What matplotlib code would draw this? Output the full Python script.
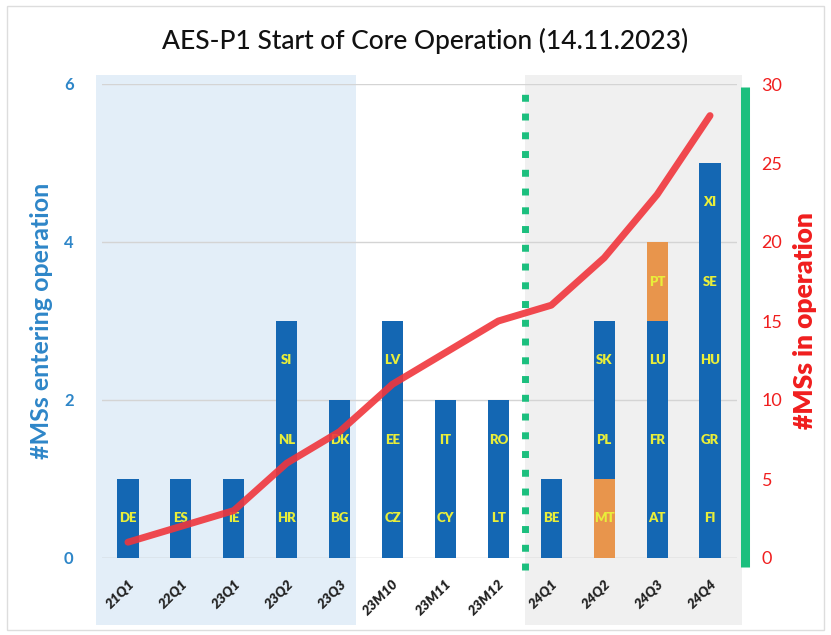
import matplotlib
matplotlib.use("Agg")
import matplotlib.pyplot as plt
import matplotlib.transforms as mtransforms
from matplotlib.patches import Rectangle
import numpy as np

plt.rcParams['font.family'] = ['Lato', 'DejaVu Sans']

periods = ["21Q1", "22Q1", "23Q1", "23Q2", "23Q3", "23M10", "23M11", "23M12",
           "24Q1", "24Q2", "24Q3", "24Q4"]
# countries entering operation per period, bottom to top, with segment colour kind
entering = [
    [("DE", "b")],
    [("ES", "b")],
    [("IE", "b")],
    [("HR", "b"), ("NL", "b"), ("SI", "b")],
    [("BG", "b"), ("DK", "b")],
    [("CZ", "b"), ("EE", "b"), ("LV", "b")],
    [("CY", "b"), ("IT", "b")],
    [("LT", "b"), ("RO", "b")],
    [("BE", "b")],
    [("MT", "o"), ("PL", "b"), ("SK", "b")],
    [("AT", "b"), ("FR", "b"), ("LU", "b"), ("PT", "o")],
    [("FI", "b"), ("GR", "b"), ("HU", "b"), ("SE", "b"), ("XI", "b")],
]
in_operation = [1, 2, 3, 6, 8, 11, 13, 15, 16, 19, 23, 28]

BLUE = "#1467B3"
ORANGE = "#E8954C"
RED = "#F0363C"
GREEN = "#1CBF7E"
LBL = "#E9EE3A"
seg_colors = {"b": BLUE, "o": ORANGE}

fig = plt.figure(figsize=(8.31, 6.35), dpi=100)
ax = fig.add_axes([101.5 / 831, 1 - 558 / 635, 635 / 831, 474 / 635])
x = np.arange(len(periods))
ax.set_xlim(-0.5, len(periods) - 0.5)
ax.set_ylim(0, 6)

# background regions
trans = mtransforms.blended_transform_factory(ax.transData, ax.transAxes)
ax.add_patch(Rectangle((-0.6, -0.141), 4.9, 1.16, transform=trans,
                       facecolor="#E3EEF8", edgecolor="none", zorder=0, clip_on=False))
ax.add_patch(Rectangle((7.5, -0.141), 4.1, 1.16, transform=trans,
                       facecolor="#F0F0F0", edgecolor="none", zorder=0, clip_on=False))

for yv in [2, 4, 6]:
    ax.axhline(yv, color="#D4D4D4", lw=1, zorder=1)
ax.axhline(0, color="#BFBFBF", lw=1, zorder=1)

for i, segs in enumerate(entering):
    for j, (code, kind) in enumerate(segs):
        ax.bar(x[i], 1, bottom=j, width=0.4, color=seg_colors[kind], zorder=2)
        ax.text(x[i], j + 0.5, code, ha="center", va="center", color=LBL,
                fontsize=9.5, fontweight="heavy", zorder=5)

ax.axvline(7.5, ymin=-0.025, ymax=1.0, color=GREEN, lw=5,
           linestyle=(0, (1, 1.7)), dash_capstyle="butt", zorder=3, clip_on=False)
ax.plot([11.66, 11.66], [-0.019, 0.994], transform=trans, color=GREEN, lw=6.5,
        zorder=3, clip_on=False, solid_capstyle="butt")

for s in ax.spines.values():
    s.set_visible(False)
ax.set_yticks([0, 2, 4, 6])
ax.tick_params(axis="y", length=0, pad=20, labelsize=12, labelcolor="#2E86C8")
for t in ax.get_yticklabels():
    t.set_fontweight("bold")
ax.set_xticks(x)
ax.set_xticklabels(periods, rotation=45, ha="right", rotation_mode="anchor",
                   fontsize=10, fontweight="heavy", color="#222222", style="italic")
ax.tick_params(axis="x", length=0, pad=14)
ax.set_ylabel("#MSs entering operation", color="#2E86C8", fontsize=18,
              fontweight="bold", labelpad=8)

ax2 = ax.twinx()
ax2.set_ylim(0, 30)
ax2.plot(x, in_operation, color=RED, lw=5, alpha=0.9, zorder=4,
         solid_capstyle="round", solid_joinstyle="round")
for s in ax2.spines.values():
    s.set_visible(False)
ax2.set_yticks([0, 5, 10, 15, 20, 25, 30])
ax2.tick_params(axis="y", length=0, pad=18, labelsize=13, labelcolor="#F01E1E")
ax2.set_ylabel("#MSs in operation", color="#F01E1E", fontsize=19,
               fontweight="heavy", labelpad=8)

fig.text(0.512, 0.935, "AES-P1 Start of Core Operation (14.11.2023)",
         ha="center", va="center", fontsize=19, color="#111111", fontweight="medium")

fig.patches.append(Rectangle((7 / 831, 5 / 635), 1 - 14 / 831, 1 - 11 / 635,
                             transform=fig.transFigure, fill=False,
                             edgecolor="#DDDDDD", lw=1))

fig.savefig("out.png", dpi=100)
